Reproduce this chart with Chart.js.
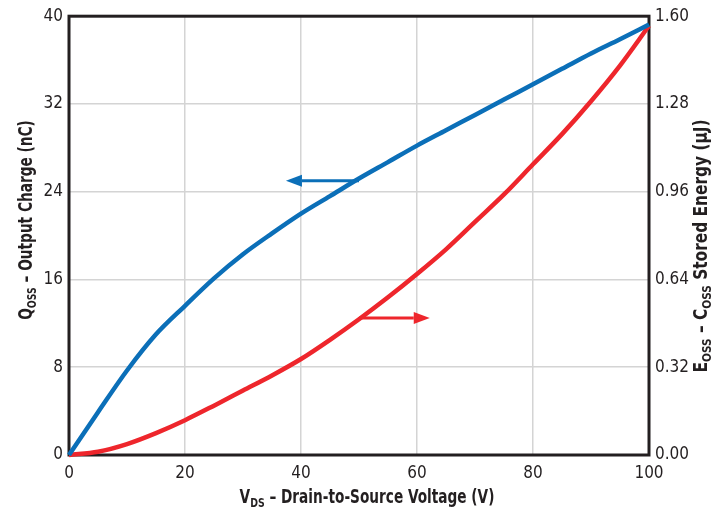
<!DOCTYPE html>
<html>
<head>
<meta charset="utf-8">
<script src="https://cdn.jsdelivr.net/npm/chart.js@4/dist/chart.umd.min.js"></script>
<style>
  html, body { margin: 0; padding: 0; background: #fff; }
  #wrap { width: 715px; height: 513px; position: relative; }
</style>
</head>
<body>
<div id="wrap"><canvas id="chart"></canvas></div>
<script>
// Q_OSS curve (left axis, nC)
const qossVoltage = [0, 5, 10, 15, 20, 25, 30, 35, 40, 45, 50, 55, 60, 65, 70, 75, 80, 85, 90, 95, 100];
const qossValues  = [0, 3.9, 7.7, 11.0, 13.6, 16.1, 18.3, 20.2, 22.0, 23.6, 25.2, 26.7, 28.2, 29.6, 31.0, 32.4, 33.8, 35.2, 36.6, 37.9, 39.25];

// E_OSS curve (right axis, uJ)
const eossVoltage = [0, 5, 10, 15, 20, 25, 30, 35, 40, 45, 50, 55, 60, 65, 70, 75, 80, 85, 90, 95, 100];
const eossValues  = [0, 0.012, 0.04, 0.08, 0.127, 0.18, 0.235, 0.29, 0.35, 0.42, 0.495, 0.575, 0.66, 0.75, 0.85, 0.95, 1.06, 1.17, 1.29, 1.42, 1.565];

const xTicks = [0, 20, 40, 60, 80, 100];
const leftTicks = [0, 8, 16, 24, 32, 40];
const rightTicks = [0, 0.32, 0.64, 0.96, 1.28, 1.60];

// arrows: [fromV, toV, level]
const qossArrow = [50, 37.4, 25];
const eossArrow = [50, 62.2, 0.5];

const BLUE = '#0b6fb8';
const RED = '#ee262c';
const FONT = "'Liberation Sans Narrow', 'DejaVu Sans Condensed', 'Arial Narrow', sans-serif";

function toPoints(xs, ys) {
    return xs.map((x, i) => ({ x: x, y: ys[i] }));
}

// draws title centred on the current origin, squeezed horizontally
function drawTitle(ctx, parts, big, small, squeeze) {
    ctx.scale(squeeze, 1);
    let total = 0;
    parts.forEach(p => {
        ctx.font = 'bold ' + (p[1] ? small : big) + 'px ' + FONT;
        total += ctx.measureText(p[0]).width;
    });
    let x = -total / 2;
    parts.forEach(p => {
        ctx.font = 'bold ' + (p[1] ? small : big) + 'px ' + FONT;
        ctx.fillText(p[0], x, p[1] ? 4 : 0);
        x += ctx.measureText(p[0]).width;
    });
}

function arrow(ctx, x1, x2, y, color) {
    const dir = x2 > x1 ? 1 : -1;
    const head = 16;
    ctx.save();
    ctx.strokeStyle = color;
    ctx.fillStyle = color;
    ctx.lineWidth = 3;
    ctx.beginPath();
    ctx.moveTo(x1, y);
    ctx.lineTo(x2 - dir * head, y);
    ctx.stroke();
    ctx.beginPath();
    ctx.moveTo(x2, y);
    ctx.lineTo(x2 - dir * head, y - 6);
    ctx.lineTo(x2 - dir * head, y + 6);
    ctx.closePath();
    ctx.fill();
    ctx.restore();
}

const decorations = {
    id: 'decorations',
    beforeDatasetsDraw(chart) {
        const { ctx, chartArea: a } = chart;
        ctx.save();
        ctx.strokeStyle = '#231f20';
        ctx.lineWidth = 3;
        ctx.strokeRect(a.left, a.top, a.right - a.left, a.bottom - a.top);
        ctx.restore();
    },
    afterDatasetsDraw(chart) {
        const { ctx, scales } = chart;
        arrow(ctx, scales.x.getPixelForValue(qossArrow[0]), scales.x.getPixelForValue(qossArrow[1]),
            scales.y.getPixelForValue(qossArrow[2]), BLUE);
        arrow(ctx, scales.x.getPixelForValue(eossArrow[0]), scales.x.getPixelForValue(eossArrow[1]),
            scales.y1.getPixelForValue(eossArrow[2]), RED);
    },
    afterDraw(chart) {
        const { ctx } = chart;
        ctx.save();
        ctx.fillStyle = '#231f20';
        ctx.textBaseline = 'alphabetic';
        ctx.textAlign = 'left';

        ctx.save();
        ctx.translate(367, 503);
        drawTitle(ctx, [['V', false], ['DS', true], [' \u2013 Drain-to-Source Voltage (V)', false]], 19, 13, 0.8);
        ctx.restore();

        ctx.save();
        ctx.translate(32, 220);
        ctx.rotate(-Math.PI / 2);
        drawTitle(ctx, [['Q', false], ['OSS', true], [' \u2013 Output Charge (nC)', false]], 19, 13, 0.8);
        ctx.restore();

        ctx.save();
        ctx.translate(707, 246);
        ctx.rotate(-Math.PI / 2);
        drawTitle(ctx, [['E', false], ['OSS', true], [' \u2013 C', false], ['OSS', true], [' Stored Energy (\u00b5J)', false]], 19, 13, 0.9);
        ctx.restore();

        ctx.restore();
    }
};

const tickFont = { family: FONT, size: 17 };

new Chart(document.getElementById('chart'), {
    type: 'line',
    data: {
        datasets: [{
            data: toPoints(qossVoltage, qossValues),
            borderColor: BLUE,
            borderWidth: 4.5,
            pointRadius: 0,
            cubicInterpolationMode: 'monotone',
            yAxisID: 'y',
            clip: 6
        }, {
            data: toPoints(eossVoltage, eossValues),
            borderColor: RED,
            borderWidth: 4.5,
            pointRadius: 0,
            cubicInterpolationMode: 'monotone',
            yAxisID: 'y1',
            clip: 6
        }]
    },
    options: {
        responsive: true,
        maintainAspectRatio: false,
        animation: false,
        layout: { padding: { top: 13, left: 0, right: 0, bottom: 0 } },
        plugins: { legend: { display: false }, tooltip: { enabled: false } },
        scales: {
            x: {
                type: 'linear',
                min: 0,
                max: 100,
                afterBuildTicks: s => { s.ticks = xTicks.map(v => ({ value: v })); },
                afterFit: s => { s.height = 58; },
                grid: { color: '#d4d4d4', lineWidth: 1.5, drawTicks: false },
                border: { display: false },
                ticks: { font: tickFont, color: '#231f20', padding: 8, maxRotation: 0 }
            },
            y: {
                position: 'left',
                min: 0,
                max: 40,
                afterBuildTicks: s => { s.ticks = leftTicks.map(v => ({ value: v })); },
                afterFit: s => { s.width = 69; },
                grid: { color: '#d4d4d4', lineWidth: 1.5, drawTicks: false },
                border: { display: false },
                ticks: { font: tickFont, color: '#231f20', padding: 6 }
            },
            y1: {
                position: 'right',
                min: 0,
                max: 1.6,
                afterBuildTicks: s => { s.ticks = rightTicks.map(v => ({ value: v })); },
                afterFit: s => { s.width = 66; },
                grid: { drawOnChartArea: false, drawTicks: false },
                border: { display: false },
                ticks: { font: tickFont, color: '#231f20', padding: 6, callback: v => v.toFixed(2) }
            }
        }
    },
    plugins: [decorations]
});
</script>
</body>
</html>
